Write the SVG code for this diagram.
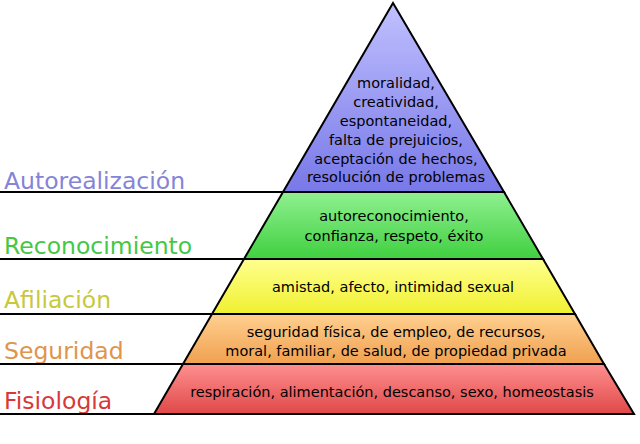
<svg xmlns="http://www.w3.org/2000/svg" width="640" height="444" viewBox="0 0 640 444">
<style>
.t{font-family:"DejaVu Sans",sans-serif;font-size:14.5px;fill:#000;text-anchor:middle}
.l{font-family:"DejaVu Sans",sans-serif;font-size:23.5px}
.ln{stroke:#000;stroke-width:2;fill:none}
.s{stroke:#000;stroke-width:2}
</style>
<defs>
<linearGradient id="gp" x1="0" y1="0" x2="0" y2="1"><stop offset="0" stop-color="#c0c0ff"/><stop offset="1" stop-color="#7878e8"/></linearGradient>
<linearGradient id="gg" x1="0" y1="0" x2="0" y2="1"><stop offset="0" stop-color="#90f090"/><stop offset="1" stop-color="#40d040"/></linearGradient>
<linearGradient id="gy" x1="0" y1="0" x2="0" y2="1"><stop offset="0" stop-color="#ffff90"/><stop offset="1" stop-color="#f0f030"/></linearGradient>
<linearGradient id="go" x1="0" y1="0" x2="0" y2="1"><stop offset="0" stop-color="#ffd090"/><stop offset="1" stop-color="#f0a050"/></linearGradient>
<linearGradient id="gr" x1="0" y1="0" x2="0" y2="1"><stop offset="0" stop-color="#ff9090"/><stop offset="1" stop-color="#e04848"/></linearGradient>
</defs>
<rect width="640" height="444" fill="#fff"/>
<g id="autorealizacion">
<polygon class="s" points="393,3 504,192 283,192" fill="url(#gp)"/>
<text class="t" x="396" y="88">moralidad,</text>
<text class="t" x="396" y="107">creatividad,</text>
<text class="t" x="396" y="126">espontaneidad,</text>
<text class="t" x="396" y="145">falta de prejuicios,</text>
<text class="t" x="396" y="164">aceptación de hechos,</text>
<text class="t" x="396" y="182">resolución de problemas</text>
<text class="l" x="4" y="189" fill="#8484d8">Autorealización</text>
</g>
<g id="reconocimiento">
<polygon class="s" points="283,192 504,192 543,259 244,259" fill="url(#gg)"/>
<text class="t" x="394" y="221">autoreconocimiento,</text>
<text class="t" x="394" y="241">confianza, respeto, éxito</text>
<text class="l" x="4" y="254" fill="#44c844">Reconocimiento</text>
</g>
<g id="afiliacion">
<polygon class="s" points="244,259 543,259 575,314 212,314" fill="url(#gy)"/>
<text class="t" x="393" y="292">amistad, afecto, intimidad sexual</text>
<text class="l" x="4" y="308" fill="#c8c83c">Afiliación</text>
</g>
<g id="seguridad">
<polygon class="s" points="212,314 575,314 604,364 183,364" fill="url(#go)"/>
<text class="t" x="396" y="337">seguridad física, de empleo, de recursos,</text>
<text class="t" x="396" y="356">moral, familiar, de salud, de propiedad privada</text>
<text class="l" x="4" y="359" fill="#e0944c">Seguridad</text>
</g>
<g id="fisiologia">
<polygon class="s" points="183,364 604,364 634,414 154,414" fill="url(#gr)"/>
<text class="t" x="392" y="397">respiración, alimentación, descanso, sexo, homeostasis</text>
<text class="l" x="4" y="409" fill="#d83838">Fisiología</text>
</g>
<g id="connectors">
<line class="ln" x1="0" y1="192" x2="283" y2="192"/>
<line class="ln" x1="0" y1="259" x2="244" y2="259"/>
<line class="ln" x1="0" y1="314" x2="212" y2="314"/>
<line class="ln" x1="0" y1="364" x2="183" y2="364"/>
<line class="ln" x1="0" y1="414" x2="154" y2="414"/>
</g>
</svg>
